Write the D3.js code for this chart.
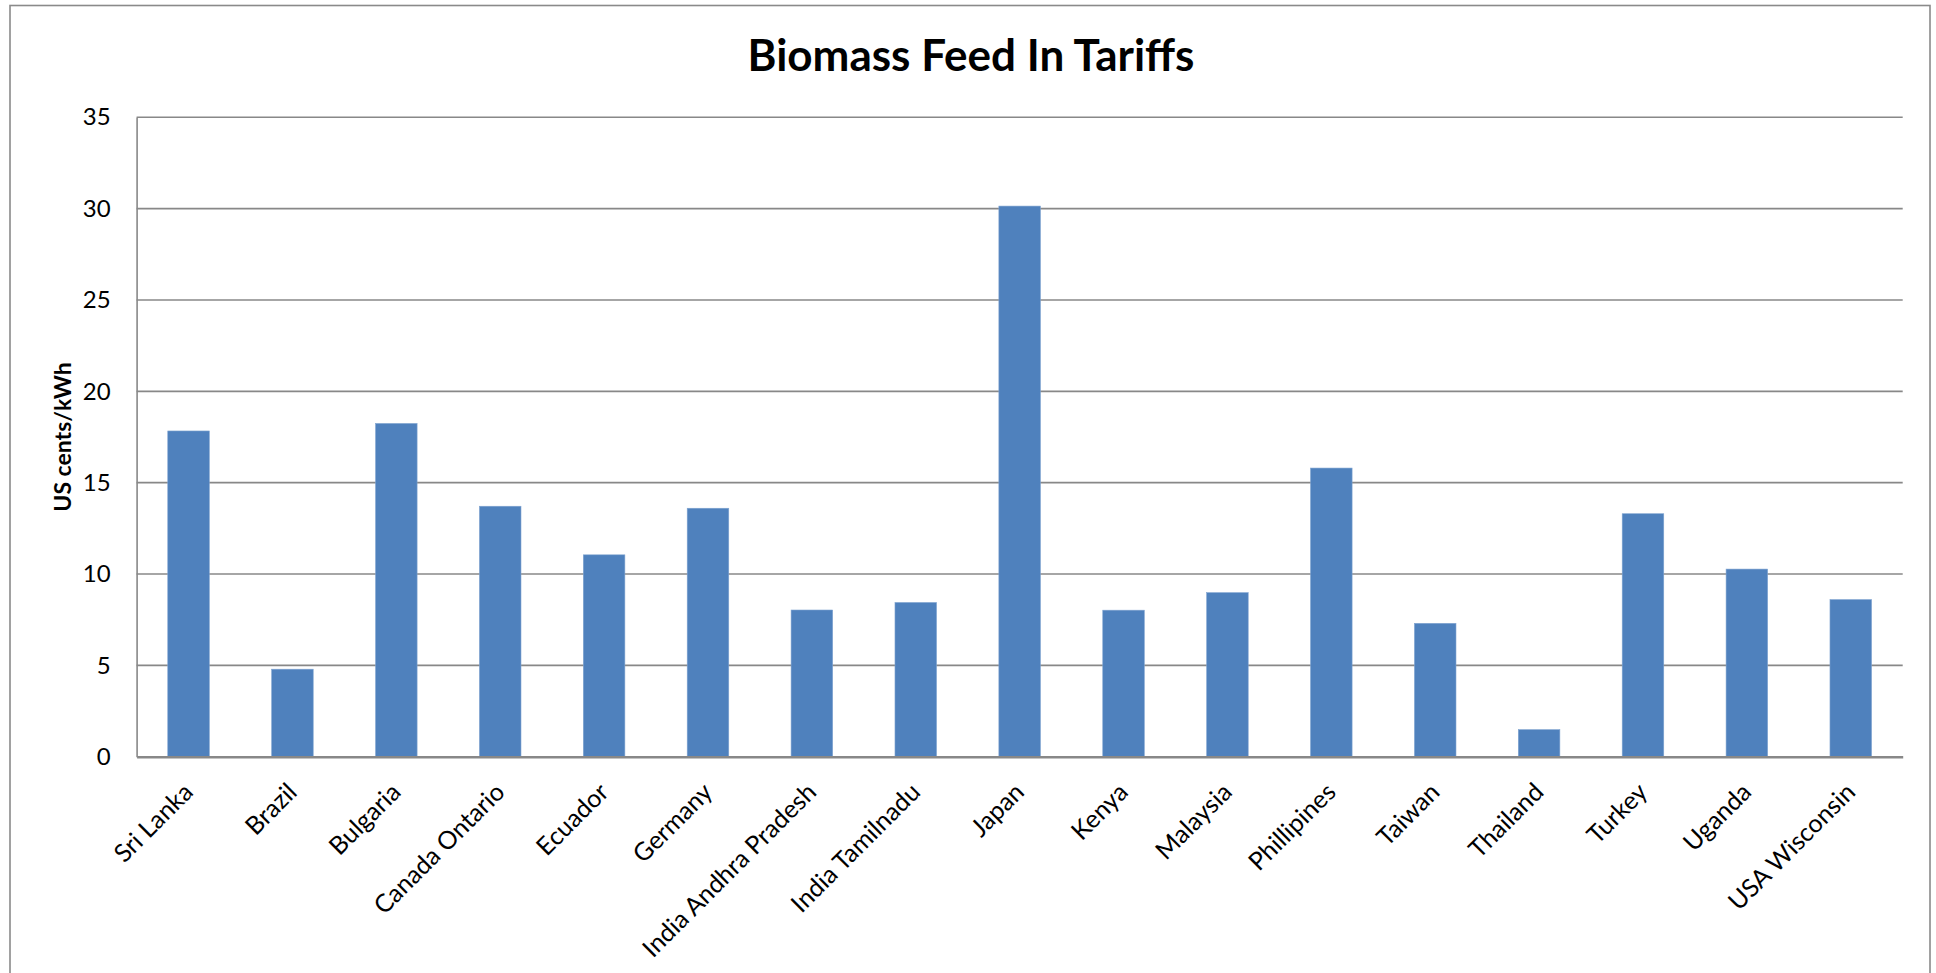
<!DOCTYPE html>
<html>
<head>
<meta charset="utf-8">
<script src="https://cdn.jsdelivr.net/npm/d3@7"></script>
<style>
  html, body { margin: 0; padding: 0; background: #ffffff; }
  svg { display: block; }
  text { font-family: Lato, "Noto Sans", "DejaVu Sans", sans-serif; fill: #000; }
</style>
</head>
<body>
<svg id="chart" width="1936" height="973"></svg>
<script>
// Biomass feed-in tariffs by country / state (US cents per kWh)
const countries = [
  "Sri Lanka", "Brazil", "Bulgaria", "Canada Ontario", "Ecuador", "Germany",
  "India Andhra Pradesh", "India Tamilnadu", "Japan", "Kenya", "Malaysia",
  "Phillipines", "Taiwan", "Thailand", "Turkey", "Uganda", "USA Wisconsin"
];
const tariffs = [
  17.83, 4.79, 18.24, 13.71, 11.05, 13.6,
  8.03, 8.44, 30.14, 8.02, 8.98,
  15.8, 7.3, 1.48, 13.3, 10.27, 8.6
];
const yTicks = [0, 5, 10, 15, 20, 25, 30, 35];
const chartTitle = "Biomass Feed In Tariffs";
const yAxisTitle = "US cents/kWh";

const svg = d3.select("#chart");
const plot = { left: 136.6, right: 1902.7, top: 117.3, bottom: 756.7 };

// outer chart frame
svg.append("rect")
  .attr("x", 10).attr("y", 5.5)
  .attr("width", 1920).attr("height", 1000)
  .attr("fill", "#ffffff")
  .attr("stroke", "#8a8a8a").attr("stroke-width", 1.6);

const x = d3.scaleBand()
  .domain(countries)
  .range([plot.left, plot.right])
  .paddingInner(0.6)
  .paddingOuter(0.3);

const y = d3.scaleLinear()
  .domain([0, 35])
  .range([plot.bottom, plot.top]);

// horizontal gridlines
svg.append("g")
  .selectAll("line")
  .data(yTicks.filter(d => d > 0))
  .join("line")
  .attr("x1", plot.left).attr("x2", plot.right)
  .attr("y1", d => y(d)).attr("y2", d => y(d))
  .attr("stroke", "#888888").attr("stroke-width", 1.6);

// y axis (labels only, no tick marks)
const yAxis = svg.append("g")
  .attr("transform", `translate(${plot.left},0)`)
  .call(d3.axisLeft(y).tickValues(yTicks).tickSize(0).tickPadding(26));
yAxis.select(".domain").attr("stroke", "#888888").attr("stroke-width", 1.6);
yAxis.selectAll("text")
  .style("font-family", "Lato, 'Noto Sans', sans-serif")
  .style("font-size", "24px")
  .attr("fill", "#000");

// bars
svg.append("g")
  .selectAll("rect")
  .data(countries.map((c, i) => ({ c, v: tariffs[i] })))
  .join("rect")
  .attr("x", d => x(d.c))
  .attr("y", d => y(d.v))
  .attr("width", x.bandwidth())
  .attr("height", d => y(0) - y(d.v))
  .attr("fill", "#4f81bd")
  .attr("stroke", "#7fa3d0").attr("stroke-width", 0.6);

// x axis line and rotated category labels
const xAxis = svg.append("g")
  .attr("transform", `translate(0,${plot.bottom})`)
  .call(d3.axisBottom(x).tickSize(0).tickPadding(0));
xAxis.select(".domain").attr("stroke", "#888888").attr("stroke-width", 2.4);
xAxis.selectAll(".tick text")
  .style("font-family", "Lato, 'Noto Sans', sans-serif")
  .style("font-size", "25px")
  .attr("fill", "#000")
  .attr("text-anchor", "end")
  .attr("dy", null)
  .attr("y", 0)
  .attr("transform", "translate(6,37) rotate(-45)");

// chart title
svg.append("text")
  .attr("x", 971).attr("y", 71)
  .attr("text-anchor", "middle")
  .style("font-size", "44px")
  .style("font-weight", "700")
  .text(chartTitle);

// y axis title
svg.append("text")
  .attr("transform", `translate(71,${(plot.top + plot.bottom) / 2}) rotate(-90)`)
  .attr("text-anchor", "middle")
  .style("font-size", "23px")
  .style("font-weight", "700")
  .text(yAxisTitle);
</script>
</body>
</html>
